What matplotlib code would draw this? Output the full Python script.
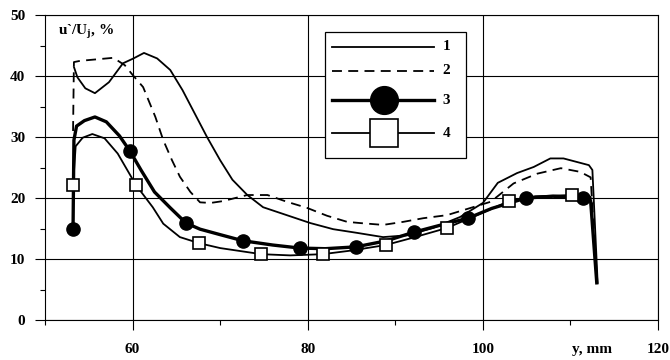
import matplotlib
matplotlib.use("Agg")
import matplotlib.pyplot as plt
from matplotlib.patches import Rectangle
from matplotlib.ticker import MultipleLocator

plt.rcParams['font.family'] = ['Liberation Serif', 'DejaVu Serif']
plt.rcParams['font.weight'] = 'bold'
plt.rcParams['mathtext.fontset'] = 'custom'
plt.rcParams['mathtext.rm'] = 'Liberation Serif:bold'
plt.rcParams['mathtext.it'] = 'Liberation Serif:bold'
plt.rcParams['mathtext.bf'] = 'Liberation Serif:bold'
plt.rcParams['lines.solid_joinstyle'] = 'round'
plt.rcParams['lines.dash_joinstyle'] = 'round'

# curve 1 (thin solid)
y1 = [53.3, 53.7, 54.6, 55.7, 57.3, 58.9, 60.1, 61.3, 62.8, 64.3, 65.7, 66.9, 68.5, 70.0,
      71.4, 73.1, 74.9, 77.6, 80.3, 82.9, 85.6, 88.6, 91.4, 94.3, 97.4, 100.0, 101.7,
      103.9, 105.8, 107.7, 109.2, 112.1, 112.5, 113.1]
u1 = [41.5, 39.8, 38.0, 37.2, 39.0, 42.1, 42.9, 43.8, 42.9, 41.0, 37.7, 34.4, 30.0, 26.2,
      23.0, 20.5, 18.5, 17.2, 15.9, 14.9, 14.3, 13.6, 13.9, 15.1, 16.9, 19.2, 22.5,
      24.1, 25.1, 26.5, 26.5, 25.4, 24.6, 6.1]

# curve 2 (dashed)
y2 = [53.2, 53.3, 54.0, 57.8, 59.1, 60.0, 61.2, 62.6, 63.5, 64.5, 65.4, 66.6, 67.7, 68.9,
      70.3, 73.1, 75.4, 77.6, 79.9, 82.2, 84.5, 86.0, 88.6, 90.9, 93.2, 95.9, 100.9,
      103.5, 106.2, 108.9, 111.1, 112.3, 113.0]
u2 = [31.0, 42.3, 42.5, 43.0, 41.8, 40.2, 38.2, 33.3, 29.5, 26.2, 23.5, 21.0, 19.3, 19.2,
      19.5, 20.5, 20.5, 19.4, 18.4, 17.1, 16.1, 15.9, 15.6, 16.1, 16.7, 17.2, 19.4,
      22.4, 24.0, 24.9, 24.3, 23.4, 6.1]

# curve 3 (thick line + filled circles)
y3 = [53.2, 53.3, 53.6, 54.5, 55.7, 57.0, 58.5, 59.7, 61.0, 62.5, 64.3, 66.1, 67.7, 70.0,
      72.6, 76.0, 79.1, 82.0, 85.5, 89.0, 92.1, 95.0, 98.3, 101.0, 104.9, 108.0, 111.4,
      112.3, 113.0]
u3 = [15.0, 29.5, 31.8, 32.7, 33.3, 32.5, 30.2, 27.7, 24.5, 21.0, 18.4, 15.9, 14.9, 14.0,
      13.0, 12.3, 11.8, 11.7, 12.0, 13.0, 14.4, 15.5, 16.7, 18.3, 20.0, 20.3, 20.0,
      19.5, 6.1]
y3_pts = [53.2, 59.7, 66.1, 72.6, 79.1, 85.5, 92.1, 98.3, 104.9, 111.4]
u3_pts = [15.0, 27.7, 15.9, 13.0, 11.8, 12.0, 14.4, 16.7, 20.0, 20.0]

# curve 4 (thin line + open squares)
y4 = [53.2, 53.5, 54.3, 55.4, 56.8, 58.3, 60.4, 62.3, 63.5, 65.4, 67.6, 70.0, 74.7, 78.0,
      81.7, 85.0, 88.9, 92.0, 95.9, 99.0, 103.0, 106.0, 110.2, 112.3, 113.0]
u4 = [22.1, 28.5, 29.9, 30.5, 29.8, 27.3, 22.1, 18.5, 15.8, 13.6, 12.6, 11.8, 10.8, 10.6,
      10.8, 11.4, 12.3, 13.5, 15.1, 17.0, 19.5, 20.3, 20.5, 20.2, 6.1]
y4_pts = [53.2, 60.4, 67.6, 74.7, 81.7, 88.9, 95.9, 103.0, 110.2]
u4_pts = [22.1, 22.1, 12.6, 10.8, 10.8, 12.3, 15.1, 19.5, 20.5]

legend_labels = ['1', '2', '3', '4']
x_ticks = [60, 80, 100, 120]
y_ticks = [0, 10, 20, 30, 40, 50]

fig = plt.figure(figsize=(6.7, 3.6), dpi=100)
ax = fig.add_axes([0.0672, 0.111, 0.915, 0.847])

ax.set_xlim(50, 120)
ax.set_ylim(0, 50)
ax.set_xticks(x_ticks)
ax.set_yticks(y_ticks)
ax.xaxis.set_minor_locator(MultipleLocator(10))
ax.yaxis.set_minor_locator(MultipleLocator(5))
ax.grid(True, which='major', color='black', lw=0.8)
ax.set_axisbelow(True)
ax.tick_params(which='major', direction='out', length=7.2, width=0.8, labelsize=11, pad=7)
ax.tick_params(which='minor', direction='out', length=3.6, width=0.8)
ax.tick_params(axis='x', which='major', pad=9)
for lab in ax.get_xticklabels() + ax.get_yticklabels():
    lab.set_fontweight('bold')
for sp in ax.spines.values():
    sp.set_linewidth(0.8)

ax.plot(y1, u1, color='black', lw=1.3)
ax.plot(y2, u2, color='black', lw=1.3, dashes=(5.5, 3.5))
ax.plot(y3, u3, color='black', lw=2.4)
ax.plot(y3_pts, u3_pts, ls='none', marker='o', ms=9.5, color='black')
ax.plot(y4, u4, color='black', lw=1.3)
ax.plot(y4_pts, u4_pts, ls='none', marker='s', ms=8.5, mfc='white', mec='black', mew=1.2)

# legend drawn by hand in axes coordinates
ax.add_patch(Rectangle((0.457, 0.531), 0.230, 0.413, transform=ax.transAxes,
                       fill=True, fc='white', ec='black', lw=0.9, zorder=5))
rows = [0.896, 0.817, 0.721, 0.613]
styles = [dict(lw=1.3), dict(lw=1.3, dashes=(5.5, 3.5)),
          dict(lw=2.4, marker='o', ms=20, mfc='black'),
          dict(lw=1.3, marker='s', ms=20, mfc='white', mew=1.2)]
for yy, st, lab in zip(rows, styles, legend_labels):
    line_st = {k: v for k, v in st.items() if k in ('lw', 'dashes')}
    ax.plot([0.468, 0.634], [yy, yy], transform=ax.transAxes, color='black',
            zorder=6, clip_on=False, **line_st)
    if 'marker' in st:
        ax.plot([0.553], [yy], transform=ax.transAxes, color='black', ls='none',
                marker=st['marker'], ms=st['ms'], mfc=st['mfc'], mec='black',
                mew=st.get('mew', 1.0), zorder=7)
    ax.text(0.648, yy, lab, transform=ax.transAxes, fontsize=11, fontweight='bold',
            va='center', ha='left', zorder=7)

ax.text(0.021, 0.944, r'u`/U$_j$, %', transform=ax.transAxes, fontsize=11,
        fontweight='bold', va='center', ha='left')
ax.text(112.4, -0.098, 'y, mm', transform=ax.get_xaxis_transform(), fontsize=11,
        fontweight='bold', va='center', ha='center')

fig.savefig('out.png', dpi=100)
